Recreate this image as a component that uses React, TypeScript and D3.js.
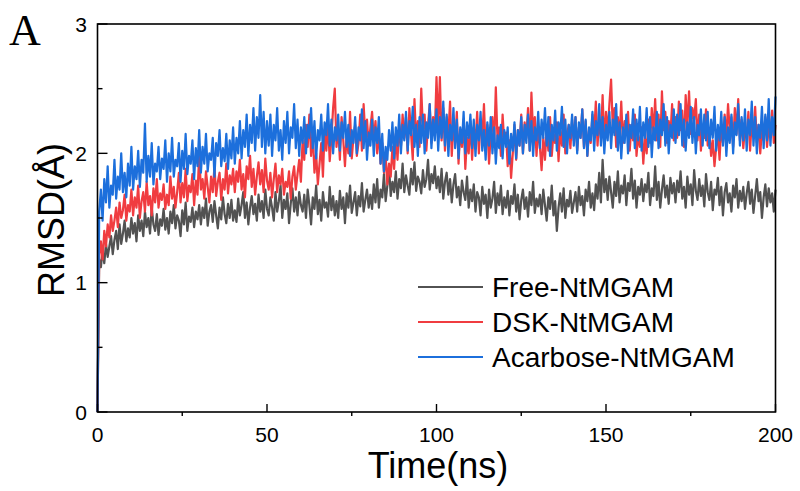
import React from "react";
import * as d3 from "d3";

const seriesNames = ["Free-NtMGAM", "DSK-NtMGAM", "Acarbose-NtMGAM"];
const xTicks = [0, 50, 100, 150, 200];
const yTicks = [0, 1, 2, 3];
const timeStep = 0.5;

const freeValues = [0,
1.18,1.12,1.25,1.15,1.30,1.20,1.28,1.36,1.22,1.33,1.40,1.26,1.45,1.30,1.38,1.48,1.32,1.42,1.35,1.50,
1.38,1.46,1.32,1.52,1.40,1.48,1.36,1.55,1.43,1.50,1.38,1.58,1.45,1.40,1.53,1.37,1.49,1.44,1.57,1.41,
1.50,1.38,1.55,1.46,1.60,1.42,1.52,1.48,1.36,1.56,1.45,1.62,1.40,1.51,1.47,1.58,1.43,1.55,1.49,1.60,
1.45,1.58,1.50,1.65,1.44,1.55,1.60,1.47,1.63,1.52,1.42,1.58,1.49,1.66,1.53,1.46,1.61,1.50,1.64,1.48,
1.56,1.47,1.65,1.52,1.60,1.70,1.50,1.62,1.45,1.58,1.67,1.53,1.61,1.48,1.68,1.55,1.63,1.50,1.72,1.57,
1.52,1.66,1.58,1.48,1.70,1.55,1.63,1.75,1.50,1.64,1.57,1.69,1.46,1.61,1.73,1.55,1.66,1.52,1.70,1.60,
1.55,1.68,1.50,1.72,1.60,1.45,1.66,1.57,1.75,1.53,1.64,1.48,1.70,1.58,1.62,1.51,1.74,1.56,1.67,1.52,
1.63,1.50,1.71,1.57,1.66,1.46,1.69,1.58,1.75,1.54,1.62,1.70,1.52,1.67,1.59,1.77,1.55,1.64,1.72,1.58,
1.68,1.57,1.76,1.62,1.80,1.58,1.72,1.66,1.84,1.63,1.75,1.90,1.67,1.78,1.70,1.86,1.65,1.80,1.73,1.92,
1.70,1.83,1.75,1.68,1.88,1.76,1.93,1.71,1.82,1.78,1.69,1.87,1.74,1.80,1.95,1.72,1.84,1.77,1.90,1.73,
1.82,1.70,1.88,1.65,1.78,1.85,1.68,1.80,1.62,1.76,1.84,1.66,1.74,1.60,1.79,1.70,1.64,1.82,1.58,1.72,
1.63,1.76,1.55,1.70,1.66,1.52,1.74,1.61,1.68,1.50,1.72,1.58,1.65,1.78,1.54,1.69,1.60,1.75,1.53,1.66,
1.58,1.71,1.52,1.67,1.61,1.76,1.55,1.68,1.49,1.64,1.72,1.57,1.66,1.51,1.70,1.60,1.78,1.54,1.65,1.59,
1.68,1.53,1.72,1.60,1.48,1.66,1.57,1.75,1.52,1.63,1.40,1.58,1.69,1.55,1.73,1.50,1.64,1.59,1.71,1.54,
1.62,1.70,1.55,1.74,1.60,1.67,1.52,1.72,1.63,1.78,1.58,1.69,1.56,1.76,1.65,1.85,1.62,1.95,1.70,1.80,
1.64,1.82,1.70,1.58,1.78,1.67,1.86,1.62,1.75,1.69,1.83,1.60,1.77,1.71,1.88,1.65,1.79,1.58,1.74,1.68,
1.80,1.63,1.76,1.70,1.85,1.60,1.73,1.67,1.90,1.64,1.78,1.58,1.72,1.83,1.66,1.75,1.61,1.81,1.69,1.77,
1.62,1.79,1.70,1.86,1.65,1.74,1.58,1.82,1.68,1.76,1.60,1.87,1.71,1.64,1.80,1.67,1.75,1.59,1.84,1.70,
1.64,1.78,1.56,1.72,1.68,1.81,1.60,1.74,1.52,1.70,1.77,1.62,1.69,1.55,1.75,1.66,1.80,1.58,1.71,1.63,
1.74,1.57,1.69,1.78,1.61,1.72,1.54,1.67,1.80,1.63,1.70,1.50,1.66,1.76,1.59,1.73,1.62,1.69,1.55,1.72];

const dskValues = [0,
1.20,1.32,1.18,1.40,1.28,1.45,1.35,1.52,1.40,1.48,1.58,1.43,1.62,1.50,1.56,1.68,1.48,1.60,1.55,1.72,
1.52,1.66,1.58,1.75,1.50,1.63,1.70,1.55,1.78,1.60,1.67,1.52,1.73,1.62,1.80,1.58,1.69,1.64,1.76,1.57,
1.68,1.60,1.82,1.65,1.74,1.58,1.70,1.85,1.62,1.77,1.66,1.88,1.63,1.75,1.70,1.84,1.60,1.79,1.68,2.00,
1.72,1.80,1.65,1.86,1.74,1.62,1.82,1.70,1.90,1.67,1.78,1.85,1.64,1.80,1.72,1.92,1.69,1.83,1.76,1.88,
1.70,1.86,1.78,1.95,1.72,1.84,1.66,1.90,1.80,1.98,1.74,1.88,1.68,1.82,1.93,1.76,1.87,1.70,1.96,1.79,
1.72,1.85,1.66,1.80,1.92,1.70,1.83,1.76,1.88,1.68,1.78,1.74,1.86,1.65,1.82,1.90,1.72,1.84,1.95,1.78,
2.10,1.95,2.22,2.05,2.30,1.98,2.15,1.85,2.00,1.76,1.92,2.08,1.82,2.18,2.02,2.25,1.94,2.12,2.35,2.50,
2.05,2.20,1.95,2.28,2.10,1.90,2.15,2.00,2.32,1.96,2.12,2.22,1.98,2.08,2.30,2.02,2.38,2.14,2.26,2.06,
2.20,2.32,2.10,2.25,2.00,2.18,1.92,2.08,1.85,1.98,1.76,1.92,1.82,2.05,1.88,2.15,1.95,2.22,2.05,2.30,
2.12,2.28,2.00,2.35,2.15,1.95,2.42,2.10,2.25,2.05,2.50,2.18,2.30,2.02,2.22,2.38,2.08,2.28,2.15,2.59,
2.20,2.59,2.10,2.35,2.02,2.28,2.15,2.40,1.98,2.22,2.08,2.32,1.92,2.18,2.05,2.26,1.88,2.12,2.00,2.25,
1.95,2.20,2.08,2.32,2.00,2.26,2.12,2.38,2.02,2.22,1.92,2.15,2.28,2.05,2.51,2.10,2.20,1.98,2.30,2.08,
2.16,1.90,2.10,1.81,2.00,2.22,1.95,2.18,2.06,2.30,2.00,2.24,2.12,2.35,2.02,2.47,2.15,2.28,1.98,2.20,
2.05,1.87,2.12,1.95,2.20,2.02,2.28,1.98,2.15,2.08,2.24,1.94,2.18,2.06,2.30,2.00,2.14,2.22,2.04,2.26,
2.10,2.28,2.02,2.20,2.12,2.34,2.05,2.25,1.98,2.18,2.08,2.30,2.15,2.40,2.06,2.26,2.12,2.45,2.08,2.32,
2.16,2.38,2.57,2.20,2.35,2.05,2.28,2.12,2.40,2.08,2.25,2.15,2.32,2.02,2.22,2.10,2.30,1.98,2.14,2.05,
2.20,1.92,2.12,2.00,2.26,2.08,2.35,2.15,2.42,2.10,2.30,2.05,2.48,2.18,2.32,2.08,2.25,2.14,2.38,2.10,
2.28,2.12,2.40,2.18,2.33,2.05,2.45,2.20,2.48,2.15,2.35,2.26,2.42,2.10,2.30,2.02,2.22,2.12,2.34,2.06,
2.18,1.98,2.10,1.90,2.05,2.15,1.95,2.22,2.08,2.30,2.12,2.38,2.18,2.28,2.05,2.35,2.15,2.42,2.10,2.26,
2.04,2.20,2.12,2.32,2.02,2.25,2.16,2.36,2.08,2.22,2.00,2.18,2.10,2.28,2.05,2.20,2.14,2.33,2.08,2.22];

const acarboseValues = [0,
1.55,1.72,1.48,1.80,1.62,1.90,1.58,1.75,1.68,1.95,1.65,1.82,1.72,2.00,1.70,1.85,1.66,1.92,1.75,2.05,
1.72,1.90,1.80,2.02,1.74,1.95,1.85,2.23,1.78,1.98,1.82,2.08,1.76,1.92,1.86,2.05,1.80,1.96,1.88,2.10,
1.78,2.00,1.86,2.12,1.82,1.95,1.90,2.08,1.78,2.02,1.88,2.15,1.84,1.98,1.92,2.10,1.80,2.04,1.90,2.18,
1.85,2.05,1.92,2.15,1.86,2.00,1.95,2.12,1.82,2.08,1.98,2.18,1.90,2.04,1.94,2.15,1.88,2.10,1.96,2.20,
1.92,2.12,2.00,2.25,1.96,2.18,2.05,2.30,1.98,2.22,2.08,2.35,2.02,2.28,2.12,2.45,2.05,2.32,2.00,2.25,
2.06,2.30,1.98,2.22,2.10,2.35,2.02,2.18,1.95,2.25,2.08,2.32,2.00,2.20,2.12,2.38,2.04,2.26,1.98,2.20,
2.08,2.28,2.00,2.22,2.12,2.35,2.04,2.25,1.96,2.18,2.10,2.30,2.02,2.24,2.14,2.38,2.06,2.26,2.00,2.20,
2.10,2.30,2.02,2.24,2.12,2.32,2.05,2.22,1.98,2.18,2.08,2.28,2.00,2.20,2.10,2.34,2.04,2.25,1.95,2.16,
2.06,2.26,1.98,2.20,2.08,2.28,1.92,2.15,1.86,2.05,1.95,2.18,2.02,2.24,1.96,2.20,2.06,2.30,2.00,2.22,
2.10,2.32,2.02,2.25,2.14,2.36,2.05,2.22,1.98,2.28,2.08,2.30,2.00,2.24,2.12,2.38,2.04,2.26,2.10,2.34,
2.02,2.28,2.12,2.40,2.06,2.30,1.98,2.22,2.10,2.35,2.04,2.26,1.96,2.20,2.08,2.32,2.00,2.24,2.12,2.30,
2.04,2.26,1.98,2.22,2.10,2.32,2.02,2.18,1.95,2.24,2.06,2.28,2.00,2.20,1.92,2.14,2.04,2.22,1.96,2.18,
2.05,2.20,1.92,2.15,2.02,2.24,1.96,2.18,2.06,2.28,2.00,2.22,2.08,2.30,2.02,2.25,1.98,2.20,2.10,2.32,
2.04,2.26,2.12,2.35,2.06,2.28,1.98,2.22,2.10,2.33,2.02,2.24,2.14,2.36,2.05,2.26,2.00,2.22,2.12,2.30,
2.06,2.28,2.00,2.24,2.12,2.34,2.04,2.26,1.98,2.20,2.10,2.32,2.02,2.25,2.14,2.38,2.06,2.28,2.00,2.22,
2.10,2.32,2.04,2.26,2.14,2.38,2.02,2.24,1.96,2.20,2.08,2.30,2.00,2.22,2.12,2.34,2.04,2.26,2.10,2.36,
2.02,2.24,2.12,2.35,2.05,2.28,1.97,2.20,2.10,2.32,2.04,2.26,2.14,2.38,2.06,2.28,2.00,2.22,2.12,2.34,
2.08,2.30,2.14,2.38,2.06,2.26,2.02,2.24,2.12,2.36,2.08,2.28,2.00,2.22,2.14,2.34,2.06,2.30,2.10,2.32,
2.04,2.26,2.12,2.36,2.02,2.22,2.10,2.32,2.06,2.28,1.98,2.20,2.08,2.30,2.00,2.24,2.14,2.38,2.06,2.28,
2.10,2.34,2.02,2.26,2.14,2.40,2.06,2.28,2.00,2.22,2.12,2.36,2.04,2.30,2.10,2.42,2.06,2.28,2.14,2.44];

const seriesValues = [freeValues, dskValues, acarboseValues];
const seriesColors = ["#525252", "#f03c40", "#1c6fdc"];

const W = 800, H = 491;
const left = 97.5, right = 775.5, top = 24, bottom = 412;
const sans = "Arial, 'Liberation Sans', sans-serif";

export default function App() {
  const x = d3.scaleLinear().domain([0, 200]).range([left, right]);
  const y = d3.scaleLinear().domain([0, 3]).range([bottom, top]);
  const line = d3.line<number>().x((_, i) => x(i * timeStep)).y((d) => y(d));
  const xMinor = [25, 75, 125, 175];
  const yMinor = [0.5, 1.5, 2.5];
  const legendY = [287, 322, 357];

  return (
    <svg width={W} height={H} style={{ position: "absolute", left: 0, top: 0, background: "#fff" }}>
      <rect width={W} height={H} fill="#fff" />
      {seriesValues.map((vals, k) => (
        <path key={k} d={line(vals) || ""} fill="none" stroke={seriesColors[k]} strokeWidth={2.2} strokeLinejoin="round" />
      ))}
      <rect x={left} y={top} width={right - left} height={bottom - top} fill="none" stroke="#000" strokeWidth={1.6} />
      {xTicks.map((t) => (
        <g key={"xt" + t}>
          <line x1={x(t)} x2={x(t)} y1={bottom} y2={bottom - 8} stroke="#000" strokeWidth={1.4} />
          <text x={x(t)} y={442} textAnchor="middle" fontFamily={sans} fontSize={21}>{t}</text>
        </g>
      ))}
      {xMinor.map((t) => (
        <line key={"xm" + t} x1={x(t)} x2={x(t)} y1={bottom} y2={bottom + 4} stroke="#000" strokeWidth={1.4} />
      ))}
      {yTicks.map((t) => (
        <g key={"yt" + t}>
          <line x1={left} x2={left + 10} y1={y(t)} y2={y(t)} stroke="#000" strokeWidth={1.4} />
          <text x={87} y={y(t) + 7.5} textAnchor="end" fontFamily={sans} fontSize={21}>{t}</text>
        </g>
      ))}
      {yMinor.map((t) => (
        <line key={"ym" + t} x1={left} x2={left + 5} y1={y(t)} y2={y(t)} stroke="#000" strokeWidth={1.4} />
      ))}
      <text x={438} y={478} textAnchor="middle" fontFamily={sans} fontSize={36}>Time(ns)</text>
      <text transform="translate(64,220) rotate(-90)" textAnchor="middle" fontFamily={sans} fontSize={36}>RMSD(Å)</text>
      <text x={9} y={45} fontFamily="'Times New Roman', 'Liberation Serif', serif" fontSize={44}>A</text>
      {seriesNames.map((n, k) => (
        <g key={n}>
          <line x1={418} x2={483} y1={legendY[k]} y2={legendY[k]} stroke={seriesColors[k]} strokeWidth={2} />
          <text x={492} y={legendY[k] + 9.5} fontFamily={sans} fontSize={28}>{n}</text>
        </g>
      ))}
    </svg>
  );
}
